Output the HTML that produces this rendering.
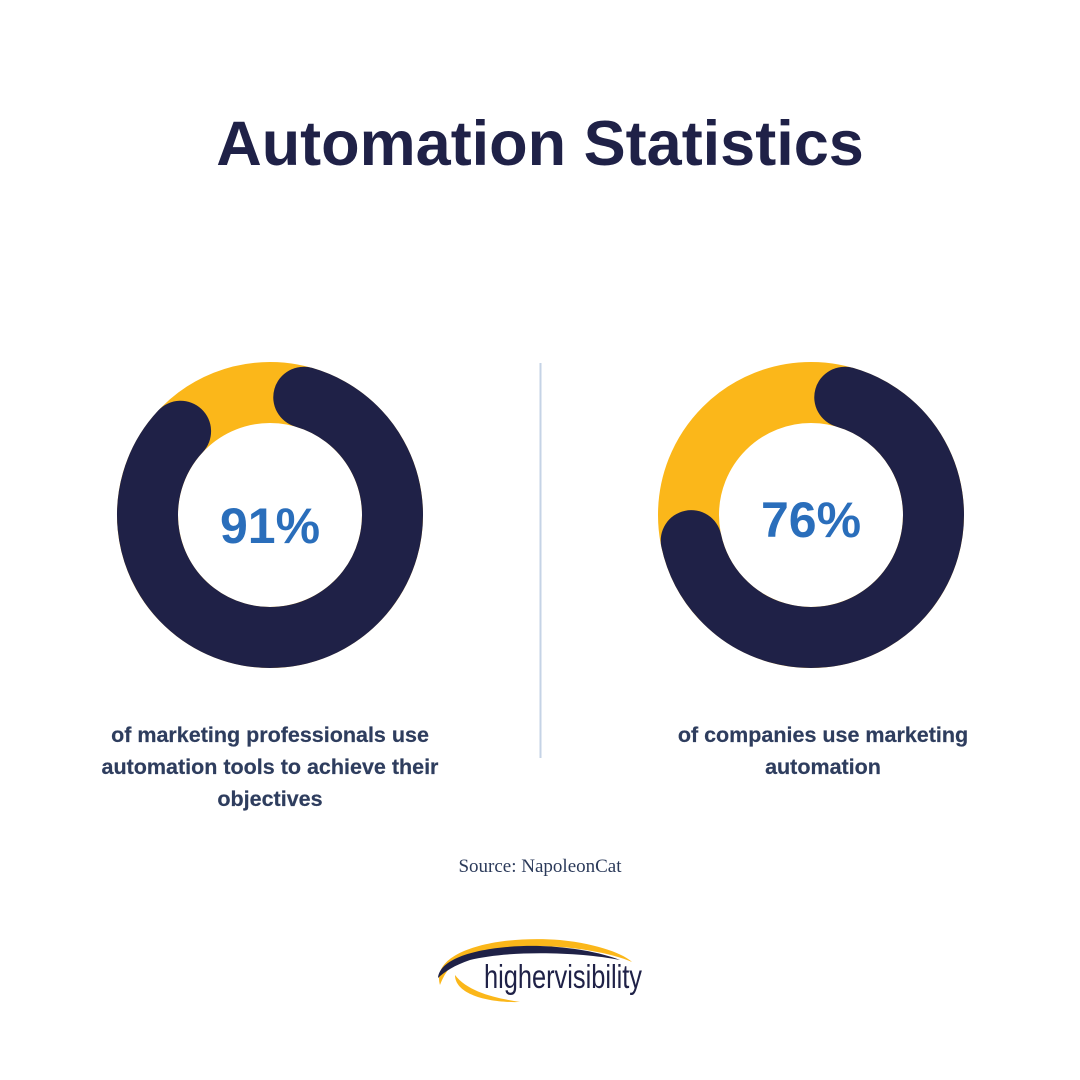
<!DOCTYPE html>
<html><head><style>
body{margin:0;width:1080px;height:1080px;background:#fff;position:relative;overflow:hidden;font-family:"Liberation Sans",sans-serif}
.t{position:absolute;left:0;width:1080px;text-align:center;top:108px;font-size:63px;font-weight:bold;color:#1f2147}
.cap{position:absolute;text-align:center;font-size:21.5px;color:#2e3d5e;line-height:32px;font-weight:600;-webkit-text-stroke:0.2px #2e3d5e}
.src{position:absolute;left:0;width:1080px;text-align:center;top:856px;font-family:"Liberation Serif",serif;font-size:19px;color:#2b3a5a}
</style></head><body>
<div class="t">Automation Statistics</div>
<svg width="1080" height="1080" style="position:absolute;left:0;top:0">
<line x1="540.5" y1="363" x2="540.5" y2="758" stroke="#c5d3e6" stroke-width="2"/>
<circle cx="270" cy="515" r="122.5" fill="none" stroke="#fbb71a" stroke-width="61"/>
<circle cx="270" cy="515" r="122.5" fill="none" stroke="#1f2147" stroke-width="61" stroke-linecap="round" stroke-dasharray="635 2000" transform="rotate(-74 270 515)"/>
<circle cx="811" cy="515" r="122.5" fill="none" stroke="#fbb71a" stroke-width="61"/>
<circle cx="811" cy="515" r="122.5" fill="none" stroke="#1f2147" stroke-width="61" stroke-linecap="round" stroke-dasharray="517 2000" transform="rotate(-74 811 515)"/>
<text x="270" y="543" text-anchor="middle" font-family="Liberation Sans" font-weight="bold" font-size="50" fill="#2a6ebb">91%</text>
<text x="811" y="537" text-anchor="middle" font-family="Liberation Sans" font-weight="bold" font-size="50" fill="#2a6ebb">76%</text>
<path d="M440,985 C430,950 500,935 560,940 C600,944 625,955 632,962 C600,948 520,938 470,955 C450,962 444,975 440,985Z" fill="#fbb71a"/>
<path d="M438,978 C440,955 490,945 540,946 C570,947 600,952 620,960 C580,952 510,950 470,960 C455,965 444,972 438,978Z" fill="#1f2147"/>
<path d="M455,975 C455,995 490,1003 520,1002 C495,998 468,992 455,975Z" fill="#fbb71a"/>
<text x="484" y="988" font-family="Liberation Sans Narrow, Liberation Sans" font-size="33" fill="#1f2147" textLength="158" lengthAdjust="spacingAndGlyphs">highervisibility</text>
</svg>
<div class="cap" style="left:83px;width:374px;top:719px">of marketing professionals use automation tools to achieve their objectives</div>
<div class="cap" style="left:653px;width:340px;top:719px">of companies use marketing automation</div>
<div class="src">Source: NapoleonCat</div>
</body></html>
